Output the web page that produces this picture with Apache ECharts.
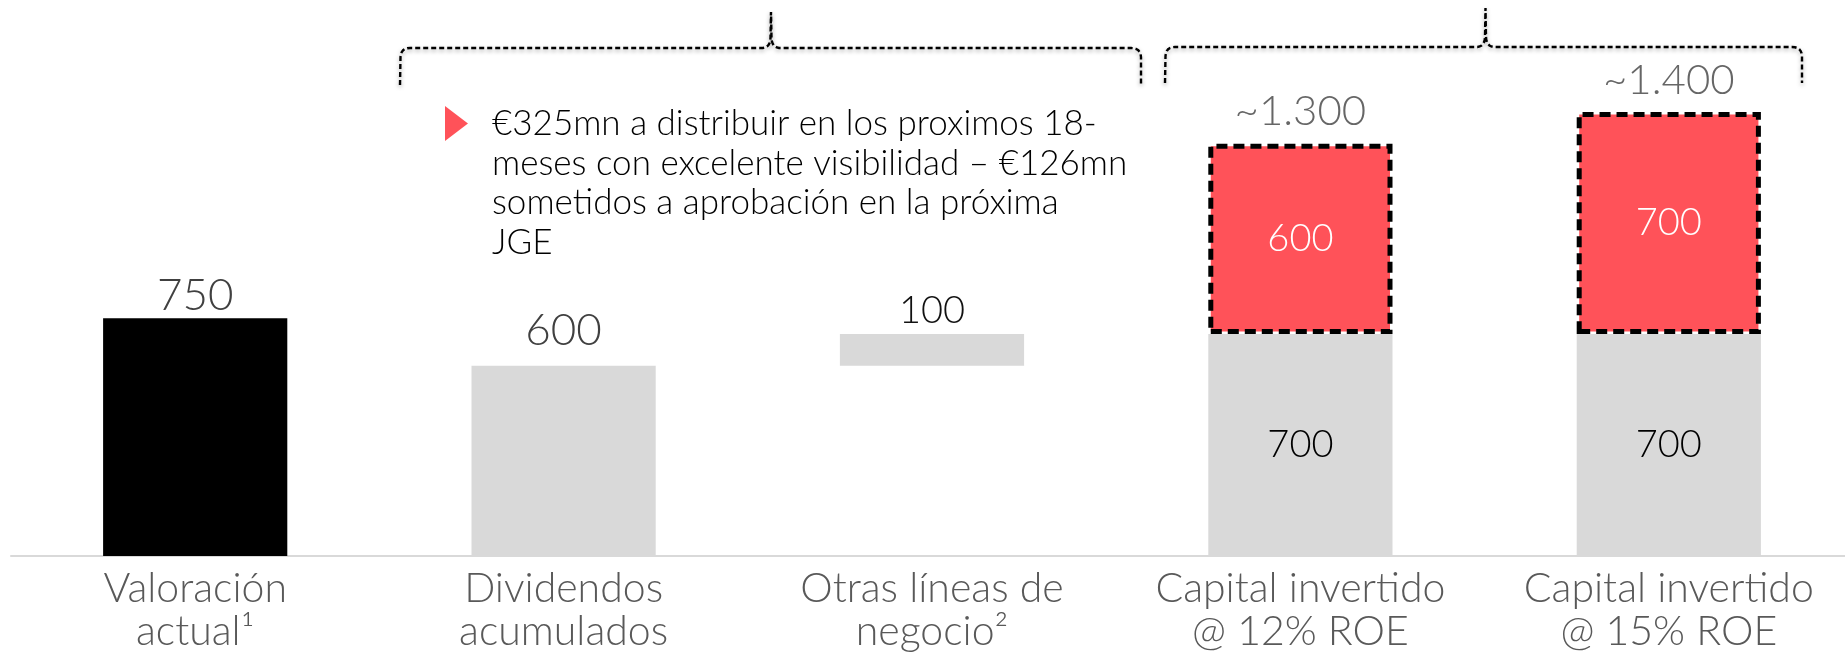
<!DOCTYPE html>
<html>
<head>
<meta charset="utf-8">
<script src="https://cdn.jsdelivr.net/npm/echarts@6/dist/echarts.min.js"></script>
<style>
  html, body { margin: 0; padding: 0; background: #ffffff; overflow: hidden; }
  /* the plot runs a few pixels past the right edge of the page */
  #chart { width: 1853px; height: 660px; }
</style>
</head>
<body>
<div id="chart"></div>
<script>
// Value bridge: current valuation vs. dividends + other lines + invested capital
const categories = [
  'Valoración\nactual¹',
  'Dividendos\nacumulados',
  'Otras líneas de\nnegocio²',
  'Capital invertido\n@ 12% ROE',
  'Capital invertido\n@ 15% ROE'
];
const offsetValues = [0, 0, 600, 0, 0];          // invisible lift for the floating bar
const baseValues = [750, 600, 100, 700, 700];    // black / grey bars
const investedValues = [null, null, null, 600, 700]; // red bars stacked on top
const totalValues = baseValues.map((v, i) =>
  investedValues[i] == null ? null : offsetValues[i] + v + investedValues[i]);
const noteLines = [
  '€325mn a distribuir en los proximos 18-',
  'meses con excelente visibilidad – €126mn',
  'sometidos a aprobación en la próxima',
  'JGE'
];

const FONT = 'Lato';
const RED = '#ff5259';
const GREY = '#d9d9d9';

const fmtThousands = v => String(v).replace(/\B(?=(\d{3})+(?!\d))/g, '.');

// per-bar appearance of the base series
const baseStyle = [
  { color: '#000000', label: { position: 'top', distance: 0, fontSize: 44, color: '#404040' } },
  { color: GREY, label: { position: 'top', distance: 13, fontSize: 44, color: '#404040' } },
  { color: GREY, label: { position: 'top', distance: 4, fontSize: 38, color: '#111111' } },
  { color: GREY, label: { position: 'inside', fontSize: 38, color: '#000000' } },
  { color: GREY, label: { position: 'inside', fontSize: 38, color: '#000000' } }
];

// Curly brace outline: left foot, shoulder, central tip, shoulder, right foot.
function bracePoints(x0, x1, tipX, yBar, yFoot, yTip) {
  const pts = [];
  const quad = (p0, c, p1, n) => {
    for (let k = 1; k <= n; k++) {
      const t = k / n, u = 1 - t;
      pts.push([u * u * p0[0] + 2 * u * t * c[0] + t * t * p1[0],
                u * u * p0[1] + 2 * u * t * c[1] + t * t * p1[1]]);
    }
  };
  const r = 9;
  pts.push([x0, yFoot], [x0 + 0.5, yBar + r]);
  quad([x0 + 0.5, yBar + r], [x0 + 1, yBar], [x0 + r + 1, yBar], 6);
  pts.push([tipX - 8, yBar]);
  quad([tipX - 8, yBar], [tipX - 0.8, yBar - 1], [tipX - 0.5, yBar - 10], 6);
  pts.push([tipX, yTip], [tipX + 0.5, yBar - 10]);
  quad([tipX + 0.5, yBar - 10], [tipX + 0.8, yBar - 1], [tipX + 8, yBar], 6);
  pts.push([x1 - r - 1, yBar]);
  quad([x1 - r - 1, yBar], [x1 - 0.5, yBar], [x1, yBar + r], 6);
  pts.push([x1, yFoot]);
  return pts;
}

const chart = echarts.init(document.getElementById('chart'));

const braceStyle = {
  stroke: '#000000',
  lineWidth: 2.4,
  lineDash: [5, 3],
  fill: null,
  shadowBlur: 4,
  shadowOffsetY: 2,
  shadowColor: 'rgba(0,0,0,0.35)'
};

chart.setOption({
  animation: false,
  backgroundColor: '#ffffff',
  grid: { left: 11, right: 0, top: 17, bottom: 104, containLabel: false },
  xAxis: {
    type: 'category',
    data: categories,
    axisLine: { show: true, lineStyle: { color: GREY, width: 2 } },
    axisTick: { show: false },
    axisLabel: {
      interval: 0,
      margin: 11,
      fontFamily: FONT,
      fontWeight: 300,
      fontSize: 41,
      lineHeight: 43,
      color: '#595959'
    }
  },
  yAxis: {
    type: 'value',
    min: 0,
    max: 1700,
    show: false,
    splitLine: { show: false }
  },
  series: [
    {
      name: 'offset',
      type: 'bar',
      stack: 'bridge',
      barWidth: '50%',
      silent: true,
      itemStyle: { color: 'transparent' },
      data: offsetValues
    },
    {
      name: 'base',
      type: 'bar',
      stack: 'bridge',
      barWidth: '50%',
      data: baseValues.map((v, i) => ({
        value: v,
        itemStyle: { color: baseStyle[i].color },
        label: Object.assign({ show: true, fontFamily: FONT, fontWeight: 300 }, baseStyle[i].label)
      }))
    },
    {
      name: 'invested',
      type: 'bar',
      stack: 'bridge',
      barWidth: '50%',
      itemStyle: {
        color: RED,
        borderColor: '#000000',
        borderWidth: 5,
        borderType: [11, 6]
      },
      label: {
        show: true,
        position: 'inside',
        fontFamily: FONT,
        fontWeight: 300,
        fontSize: 38,
        color: '#ffffff'
      },
      data: investedValues
    },
    {
      name: 'total',
      type: 'scatter',
      symbolSize: 0,
      silent: true,
      label: {
        show: true,
        position: 'top',
        distance: 11,
        fontFamily: FONT,
        fontWeight: 300,
        fontSize: 42,
        color: '#404040',
        formatter: p => '~' + fmtThousands(p.value)
      },
      data: totalValues
    }
  ],
  graphic: [
    {
      type: 'polyline',
      z: 100,
      shape: { points: bracePoints(400, 1141, 771, 48, 85, 12) },
      style: braceStyle
    },
    {
      type: 'polyline',
      z: 100,
      shape: { points: bracePoints(1165, 1802, 1485.5, 47, 83, 8) },
      style: braceStyle
    },
    {
      type: 'polygon',
      z: 100,
      shape: { points: [[445, 106], [468, 123.5], [445, 141]] },
      style: { fill: RED }
    },
    {
      type: 'text',
      z: 100,
      x: 492,
      y: 104,
      style: {
        text: noteLines.join('\n'),
        fontFamily: FONT,
        fontWeight: 300,
        fontSize: 35,
        lineHeight: 39.5,
        fill: '#000000',
        verticalAlign: 'top',
        align: 'left'
      }
    }
  ]
});
</script>
</body>
</html>
